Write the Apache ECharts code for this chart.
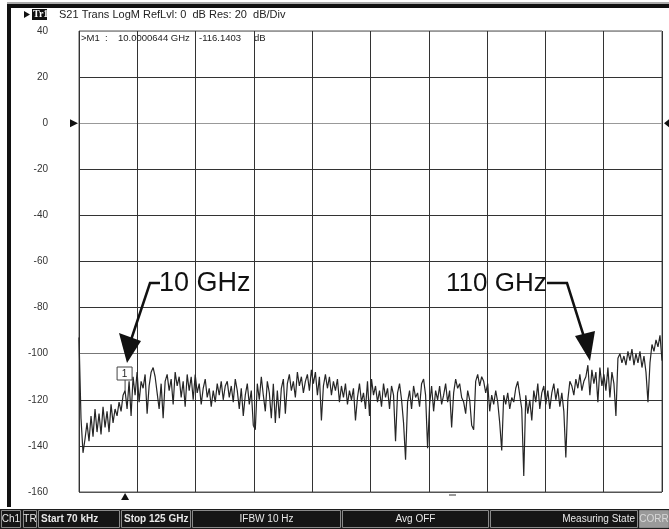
<!DOCTYPE html>
<html>
<head>
<meta charset="utf-8">
<script src="https://cdn.jsdelivr.net/npm/echarts@6/dist/echarts.min.js"></script>
<style>
  html, body { margin: 0; padding: 0; background: #fff; }
  #chart { width: 669px; height: 529px; }
</style>
</head>
<body>
<div id="chart"></div>
<script>
// S21 trace in dB, one point per sweep step (70 kHz .. 125 GHz)
const traceDb = [
  -93, -128, -143, -137, -130, -138, -127, -136, -124, -134,
  -126, -135, -123, -132, -125, -134, -122, -130, -124, -127,
  -121, -125, -118, -116, -124, -112, -127, -110, -118, -108,
  -121, -112, -115, -109, -126, -114, -108, -106, -110, -117,
  -124, -113, -128, -112, -109, -116, -111, -122, -108, -114,
  -110, -119, -112, -123, -109, -116, -110, -120, -109, -117,
  -113, -122, -115, -111, -119, -115, -123, -116, -121, -113,
  -118, -112, -120, -114, -112, -119, -114, -121, -111, -116,
  -124, -115, -127, -118, -113, -122, -116, -131, -133, -113,
  -120, -110, -118, -125, -112, -117, -128, -113, -130, -116,
  -128, -115, -111, -126, -113, -109, -116, -112, -119, -108,
  -114, -110, -117, -112, -109, -116, -107, -113, -108, -118,
  -110, -129, -114, -109, -115, -110, -118, -112, -116, -111,
  -121, -114, -119, -113, -122, -116, -120, -115, -129, -119,
  -113, -121, -117, -124, -112, -127, -111, -118, -114, -121,
  -116, -123, -113, -119, -115, -124, -114, -118, -138, -117,
  -113, -120, -130, -146, -121, -116, -124, -114, -119, -117,
  -123, -113, -111, -118, -141, -122, -114, -125, -116, -120,
  -114, -122, -118, -113, -121, -116, -132, -117, -111, -115,
  -113, -119, -121, -126, -116, -120, -131, -133, -112, -109,
  -114, -110, -112, -117, -113, -125, -118, -122, -116, -121,
  -130, -142, -118, -122, -117, -124, -119, -121, -115, -112,
  -118, -124, -153, -118, -126, -120, -129, -116, -121, -113,
  -124, -117, -114, -122, -116, -124, -117, -113, -120, -115,
  -123, -117, -125, -145, -120, -112, -114, -118, -111, -115,
  -109, -116, -112, -110, -105, -118, -107, -113, -108, -121,
  -106, -114, -109, -116, -106, -119, -108, -113, -127, -102,
  -100, -104, -101, -105, -99, -103, -98, -105, -100, -104,
  -99, -106, -101, -108, -121, -104, -96, -99, -94, -97,
  -92, -103
];
const markerIndex = 23;
const markerReadout = ['>M1  :', '10.0000644 GHz', '-116.1403', 'dB'];
const headerText = 'S21 Trans LogM RefLvl: 0  dB Res: 20  dB/Div';
const statusTexts = ['Ch1', 'TR', 'Start 70 kHz', 'Stop 125 GHz', 'IFBW 10 Hz', 'Avg OFF', 'Measuring State', 'CORR'];
const calloutTexts = ['10 GHz', '110 GHz'];

const chart = echarts.init(document.getElementById('chart'), null, { renderer: 'canvas' });

chart.setOption({
  animation: false,
  backgroundColor: '#fff',
  grid: { left: 79, right: 7, top: 31, bottom: 37, show: true, borderColor: '#555', borderWidth: 1 },
  xAxis: [
    {
      type: 'category',
      data: traceDb.map((v, i) => i),
      boundaryGap: false,
      show: false
    },
    {
      type: 'value',
      min: 0,
      max: 125,
      interval: 12.5,
      axisLine: { show: false },
      axisTick: { show: false },
      axisLabel: { show: false },
      splitLine: { show: true, lineStyle: { color: '#333', width: 1 } }
    }
  ],
  yAxis: {
    type: 'value',
    min: -160,
    max: 40,
    interval: 20,
    axisLine: { show: false },
    axisTick: { show: false },
    axisLabel: { margin: 31, fontSize: 10, color: '#333', fontFamily: 'Liberation Sans' },
    splitLine: {
      show: true,
      lineStyle: {
        width: 1,
        color: ['#555', '#333', '#333', '#777', '#333', '#333', '#333', '#333', '#999', '#333', '#999']
      }
    }
  },
  series: [{
    type: 'line',
    xAxisIndex: 0,
    data: traceDb,
    symbol: 'none',
    lineStyle: { color: '#262626', width: 1.2 }
  }]
});

// marker position on the trace
const mp = chart.convertToPixel({ seriesIndex: 0 }, [markerIndex, traceDb[markerIndex]]);
const zeroY = chart.convertToPixel({ yAxisIndex: 0 }, 0);

const font = 'Liberation Sans';
const g = [];

// instrument frame
g.push({ type: 'rect', shape: { x: 7, y: 2, width: 662, height: 2 }, style: { fill: '#aaa' } });
g.push({ type: 'rect', shape: { x: 7, y: 4, width: 662, height: 4 }, style: { fill: '#111' } });
g.push({ type: 'rect', shape: { x: 7, y: 4, width: 4, height: 503 }, style: { fill: '#111' } });

// header
g.push({ type: 'polygon', shape: { points: [[24, 11], [24, 18], [30, 14.5]] }, style: { fill: '#111' } });
g.push({ type: 'rect', shape: { x: 32, y: 9, width: 15, height: 11 }, style: { fill: '#111' } });
g.push({ type: 'text', x: 33, y: 14.5, style: { text: 'Tr1', fill: '#fff', font: 'bold 10px "Liberation Serif"', textVerticalAlign: 'middle' } });
g.push({ type: 'text', x: 59, y: 15, style: { text: headerText, fill: '#222', font: '11px ' + font, textVerticalAlign: 'middle' } });

// marker readout
const roX = [81, 118, 199, 254];
markerReadout.forEach((t, i) => {
  g.push({ type: 'text', x: roX[i], y: 38, z: 10, style: { text: t, fill: '#222', font: '9.5px ' + font, textVerticalAlign: 'middle' } });
});

// reference level triangles
g.push({ type: 'polygon', shape: { points: [[70, zeroY - 4], [70, zeroY + 4], [78, zeroY]] }, style: { fill: '#111' } });
g.push({ type: 'polygon', shape: { points: [[669, zeroY - 4], [669, zeroY + 4], [664, zeroY]] }, style: { fill: '#111' } });

// marker 1 flag + stimulus triangle
g.push({ type: 'line', shape: { x1: mp[0], y1: 380, x2: mp[0], y2: mp[1] }, style: { stroke: '#444', lineWidth: 1 } });
g.push({ type: 'rect', shape: { x: mp[0] - 8, y: 367, width: 15, height: 13 }, style: { fill: '#fff', stroke: '#444', lineWidth: 1 } });
g.push({ type: 'text', x: mp[0] - 0.5, y: 374, style: { text: '1', fill: '#222', font: '10px ' + font, align: 'center', verticalAlign: 'middle' } });
g.push({ type: 'polygon', shape: { points: [[mp[0] - 4, 500], [mp[0] + 4, 500], [mp[0], 493]] }, style: { fill: '#111' } });
g.push({ type: 'rect', shape: { x: 449, y: 494, width: 7, height: 2 }, style: { fill: '#999' } });

// callouts
g.push({ type: 'text', x: 159, y: 284, style: { text: calloutTexts[0], fill: '#111', font: '27px ' + font, textVerticalAlign: 'middle' } });
g.push({ type: 'polyline', shape: { points: [[160, 283], [150, 283], [131, 340]] }, style: { stroke: '#111', lineWidth: 2.5 } });
g.push({ type: 'polygon', shape: { points: [[119, 333], [141, 341], [127, 363]] }, style: { fill: '#111' } });
g.push({ type: 'text', x: 446, y: 284, style: { text: calloutTexts[1], fill: '#111', font: '26px ' + font, textVerticalAlign: 'middle' } });
g.push({ type: 'polyline', shape: { points: [[547, 283], [567, 283], [584, 337]] }, style: { stroke: '#111', lineWidth: 2.5 } });
g.push({ type: 'polygon', shape: { points: [[575, 336], [595, 331], [590, 361]] }, style: { fill: '#111' } });

// status bar
g.push({ type: 'rect', shape: { x: 0, y: 509, width: 669, height: 20 }, style: { fill: '#1c1c1c' } });
const cells = [[1, 21], [23, 37], [38, 120], [121, 191], [192, 341], [342, 489], [490, 638], [639, 669]];
cells.forEach((c, i) => {
  const last = i === cells.length - 1;
  g.push({ type: 'rect', shape: { x: c[0] + 0.5, y: 510.5, width: c[1] - c[0] - 1, height: 17 },
    style: { fill: last ? '#9a9a9a' : '#151515', stroke: '#8a8a8a', lineWidth: 1 } });
  let tx, align;
  if (i <= 1) { tx = (c[0] + c[1]) / 2; align = 'center'; }
  else if (i <= 3) { tx = c[0] + 3; align = 'left'; }
  else if (i === 6) { tx = c[1] - 3; align = 'right'; }
  else { tx = (c[0] + c[1]) / 2; align = 'center'; }
  g.push({ type: 'text', x: tx, y: 519.5, style: {
    text: statusTexts[i], fill: last ? '#d8d8d8' : '#e8e8e8',
    font: ((i === 2 || i === 3) ? 'bold 10px ' : '10px ') + font,
    align: align, verticalAlign: 'middle' } });
});

chart.setOption({ graphic: g });
</script>
</body>
</html>
